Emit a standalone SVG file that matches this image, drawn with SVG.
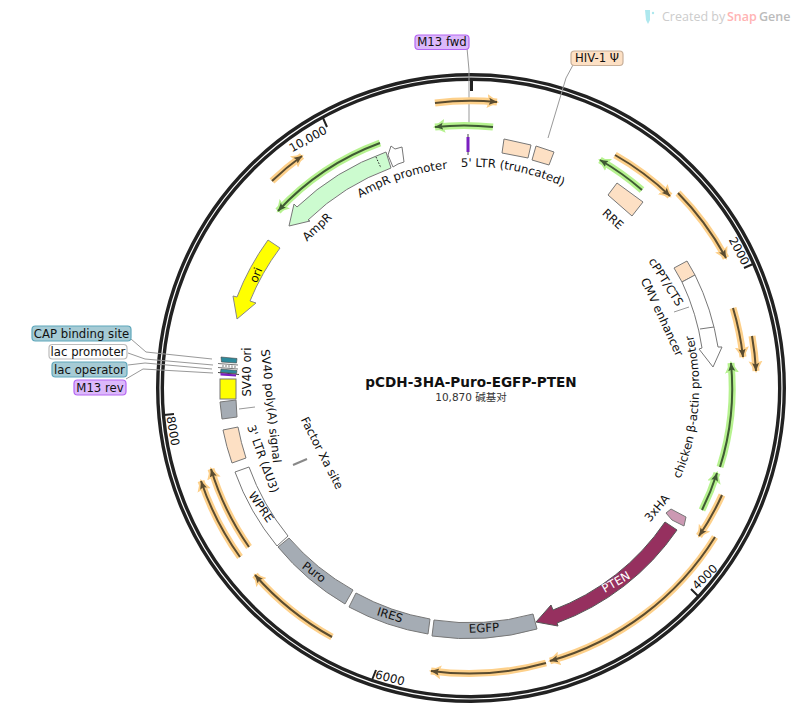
<svg xmlns="http://www.w3.org/2000/svg" width="800" height="728" viewBox="0 0 800 728">
<style>
text{font-family:"DejaVu Sans",Verdana,sans-serif;font-size:11.7px;fill:#111}
.c{text-anchor:middle;dominant-baseline:central}
.f{stroke:#777;stroke-width:1}
.pe{fill:#fde0c4}.gr{fill:#a5acb4}.wh{fill:#fff}.ye{fill:#ff0}
.lead{fill:none;stroke:#999;stroke-width:1}
.b{stroke-width:1.2}
.gl{fill:none;stroke-width:7}
.ln{fill:none;stroke-width:2}
.o .gl{stroke:#fdd08a;marker-end:url(#ho)}
.o .ln{stroke:#5a4c30;marker-end:url(#hd)}
.g .gl{stroke:#b6f28f;marker-end:url(#hg)}
.g .ln{stroke:#3f5a33;marker-end:url(#hd2)}
.tick{stroke:#222;stroke-width:2}
</style>
<defs>
<marker id="ho" markerUnits="userSpaceOnUse" markerWidth="14" markerHeight="14" refX="10" refY="7" orient="auto"><path d="M0 0L12 7L0 14L2 7Z" fill="#fdd08a"/></marker>
<marker id="hg" markerUnits="userSpaceOnUse" markerWidth="14" markerHeight="14" refX="10" refY="7" orient="auto"><path d="M0 0L12 7L0 14L2 7Z" fill="#b6f28f"/></marker>
<marker id="hd" markerUnits="userSpaceOnUse" markerWidth="10" markerHeight="10" refX="8" refY="4" orient="auto"><path d="M0 .5L8 4L0 7.5L1.5 4Z" fill="#5a4c30"/></marker>
<marker id="hd2" markerUnits="userSpaceOnUse" markerWidth="10" markerHeight="10" refX="8" refY="4" orient="auto"><path d="M0 .5L8 4L0 7.5L1.5 4Z" fill="#3f5a33"/></marker>
<path id="p-ltr" d="M461 167A221 221 0 0 1 620 224"/>
<path id="p-amp" d="M360 198A221 221 0 0 1 500 169"/>
<path id="p-chk" d="M666 506A228 228 0 0 0 684 306"/>
</defs>

<g id="watermark">
<path d="M645 10L650 10L650 20L648 24L646 20Z" fill="#aee8ee"/><circle cx="653" cy="13" r="1.2" fill="#aee8ee"/>
<text x="662" y="21" style="font-family:'Open Sans',sans-serif;font-size:12.5px;fill:#ccc">Created by</text>
<text x="727" y="21" style="font-family:'Open Sans',sans-serif;font-size:12.5px;font-weight:600;fill:#ffb3b3">Snap</text>
<text x="759" y="21" style="font-family:'Open Sans',sans-serif;font-size:12.5px;font-weight:600;fill:#bbb">Gene</text>
</g>

<g id="backbone">
<circle cx="471" cy="388" r="311" fill="none" stroke="#222" stroke-width="8"/>
<circle cx="471" cy="388" r="311" fill="none" stroke="#fff" stroke-width="1.2"/>
<path class="tick" style="stroke-width:3" d="M471.500 78V91"/>
<path class="tick" d="M753 264L744 268M698 596L691 589M372 680L376 670M164 415L174 414M323 118L327 127"/>
<text class="c" transform="translate(739 251) rotate(62)">2000</text>
<text class="c" transform="translate(705 577) rotate(-45)">4000</text>
<text class="c" transform="translate(390 678) rotate(15)">6000</text>
<text class="c" transform="translate(173 431) rotate(80)">8000</text>
<text class="c" transform="translate(308 139) rotate(-29)">10,000</text>
</g>

<g id="connectors">
<path class="lead" d="M467 48L469 70V123"/>
<path class="lead" d="M573 65L566 78L548 138"/>
<path class="lead" d="M131 339L146 352L212 359"/>
<path class="lead" d="M128 353L145 359L213 365"/>
<path class="lead" d="M128 365L145 363L212 369"/>
<path class="lead" d="M126 379L143 369L213 373"/>
<path class="lead" d="M239 409L255 407"/>
<path class="lead" d="M674 312L689 307"/>
</g>

<g id="primers">
<g class="o"><path class="gl" d="M435 103A287 287 0 0 1 497 102"/><path class="ln" d="M435 103A287 287 0 0 1 497 102"/></g>
<g class="g"><path class="gl" d="M493 127A262 262 0 0 0 435 127"/><path class="ln" d="M493 127A262 262 0 0 0 435 127"/></g>
<g class="o"><path class="gl" d="M615 155A275 275 0 0 1 670 196"/><path class="ln" d="M615 155A275 275 0 0 1 670 196"/></g>
<g class="o"><path class="gl" d="M678 193A285 285 0 0 1 726 258"/><path class="ln" d="M678 193A285 285 0 0 1 726 258"/></g>
<g class="o"><path class="gl" d="M733 308A274 274 0 0 1 743 357"/><path class="ln" d="M733 308A274 274 0 0 1 743 357"/></g>
<g class="o"><path class="gl" d="M752 336A286 286 0 0 1 756 371"/><path class="ln" d="M752 336A286 286 0 0 1 756 371"/></g>
<g class="g"><path class="gl" d="M720 467A261 261 0 0 0 731 363"/><path class="ln" d="M720 467A261 261 0 0 0 731 363"/></g>
<g class="g"><path class="gl" d="M702 510A261 261 0 0 0 717 473"/><path class="ln" d="M702 510A261 261 0 0 0 717 473"/></g>
<g class="g"><path class="gl" d="M642 190A262 262 0 0 0 600 160"/><path class="ln" d="M642 190A262 262 0 0 0 600 160"/></g>
<g class="o"><path class="gl" d="M722 495A273 273 0 0 1 699 536"/><path class="ln" d="M722 495A273 273 0 0 1 699 536"/></g>
<g class="o"><path class="gl" d="M715 537A286 286 0 0 1 550 661"/><path class="ln" d="M715 537A286 286 0 0 1 550 661"/></g>
<g class="o"><path class="gl" d="M546 663A286 286 0 0 1 431 671"/><path class="ln" d="M546 663A286 286 0 0 1 431 671"/></g>
<g class="o"><path class="gl" d="M332 637A286 286 0 0 1 255 575"/><path class="ln" d="M332 637A286 286 0 0 1 255 575"/></g>
<g class="o"><path class="gl" d="M240 557A286 286 0 0 1 201 481"/><path class="ln" d="M240 557A286 286 0 0 1 201 481"/></g>
<g class="o"><path class="gl" d="M249 547A273 273 0 0 1 211 469"/><path class="ln" d="M249 547A273 273 0 0 1 211 469"/></g>
<g class="o"><path class="gl" d="M272 181A287 287 0 0 1 302 156"/><path class="ln" d="M272 181A287 287 0 0 1 302 156"/></g>
<g class="g"><path class="gl" d="M380 143A262 262 0 0 0 278 211"/><path class="ln" d="M380 143A262 262 0 0 0 278 211"/></g>
</g>

<g id="m13-fwd">
<path d="M468 134V155" stroke="#444" stroke-width="1"/><rect x="466.500" y="137" width="3" height="15" fill="#7a1fc0"/>
<rect x="415" y="35" width="54" height="14.500" rx="3.500" fill="#dcb8fb" stroke="#b566f2" class="b"/>
<text class="c" x="442" y="42">M13 fwd</text>
</g>
<g id="ltr5">
<path class="f pe" d="M504 139L531 145L528 158L502 153Z"/>
<path class="f pe" d="M536 146L554 152L549 165L532 160Z"/>
<text><textPath href="#p-ltr">5' LTR (truncated)</textPath></text>
</g>
<g id="hiv-psi">
<rect x="571" y="51" width="52" height="14.500" rx="3.500" fill="#fde0c4" stroke="#c8b09a" class="b"/>
<text class="c" x="597" y="58">HIV-1 Ψ</text>
</g>
<g id="rre"><path class="f pe" d="M617 183L643 202L632 216L608 195Z"/><text class="c" transform="translate(613 219) rotate(42)">RRE</text></g>
<g id="cppt"><path class="f pe" d="M674 268L687 261L695 275L682 282Z"/><text class="c" transform="translate(666 282) rotate(58)">cPPT/CTS</text></g>
<g id="cmv-actin">
<path class="f wh" d="M682 282L695 275A250 250 0 0 1 718 347L722 347L713 367L699 349L702 348A235 235 0 0 0 682 282Z"/>
<path class="f" d="M700 329L714 327"/>
<text class="c" transform="translate(662 317) rotate(65)">CMV enhancer</text>
<text text-anchor="middle"><textPath href="#p-chk" startOffset="50%">chicken β-actin promoter</textPath></text>
</g>
<g id="ha3"><path d="M671 509L686 517L684 526L672 520L666 513Z" fill="#cc99b3" stroke="#777"/><text class="c" transform="translate(657 508) rotate(-50)">3xHA</text></g>
<g id="pten">
<path d="M677 530A250 250 0 0 1 557 623L558 626L536 622L551 605L553 610A236 236 0 0 0 665 522Z" fill="#96305f" stroke="#555"/>
<text class="c" transform="translate(616 582) rotate(-30)" style="fill:#fff">PTEN</text>
</g>
<g id="egfp"><path class="f gr" d="M434 620A235 235 0 0 0 533 614L537 629A250 250 0 0 1 432 636Z"/><text class="c" transform="translate(484 628) rotate(-3)">EGFP</text></g>
<g id="ires"><path class="f gr" d="M356 593A235 235 0 0 0 430 619L428 634A250 250 0 0 1 349 607Z"/><text class="c" transform="translate(390 615) rotate(17)">IRES</text></g>
<g id="puro"><path class="f gr" d="M289 538A236 236 0 0 0 353 590L345 604A250 250 0 0 1 278 547Z"/><text class="c" transform="translate(314 572) rotate(37)">Puro</text></g>
<g id="wpre"><path class="f wh" d="M249 467A236 236 0 0 0 288 536L277 546A250 250 0 0 1 235 472Z"/><text class="c" transform="translate(261 507) rotate(55)">WPRE</text></g>
<g id="ltr3"><path class="f pe" d="M238 427A236 236 0 0 0 246 458L232 463A250 250 0 0 1 223 430Z"/><text class="c" transform="translate(263 459) rotate(70)">3' LTR (ΔU3)</text></g>
<g id="factor-xa"><path d="M293 465L307 459" stroke="#888" stroke-width="2"/><text class="c" transform="translate(322 453) rotate(63)">Factor Xa site</text></g>
<g id="sv40-polya"><path class="f gr" d="M220 402L236 400L237 417L222 419Z"/><text class="c" transform="translate(271 406) rotate(84)">SV40 poly(A) signal</text></g>
<g id="sv40-ori"><rect class="f ye" x="220" y="379" width="16" height="20"/><text class="c" transform="translate(247 372) rotate(-90)">SV40 ori</text></g>
<g id="cap-site">
<path d="M221 357L237 358.500L236.500 363L221.500 362Z" fill="#2d8a9c" stroke="#444" stroke-width=".6"/>
<rect x="32" y="326" width="99" height="15" rx="3.500" fill="#a6cbd5" stroke="#5ea7bb" class="b"/>
<text class="c" x="81.500" y="333.500">CAP binding site</text>
</g>
<g id="lac-promoter">
<path d="M218 363.500L238 365M218 367.500L238 369" stroke="#555" stroke-width=".8"/>
<path d="M222 365.800L236 367" stroke="#bbb" stroke-width="2.500" stroke-dasharray="2 1"/>
<rect x="49" y="344.500" width="78" height="14.500" rx="3.500" fill="#fff" stroke="#bbb" class="b"/>
<text class="c" x="88" y="351.500">lac promoter</text>
</g>
<g id="lac-operator">
<path d="M221 369L237 370.500L236.500 373.500L220.500 372.500Z" fill="#2d8a9c" stroke="#444" stroke-width=".6"/>
<rect x="52" y="362" width="75" height="15" rx="3.500" fill="#a6cbd5" stroke="#5ea7bb" class="b"/>
<text class="c" x="89.500" y="369.500">lac operator</text>
</g>
<g id="m13-rev">
<path d="M218 372.500L239 374.500" stroke="#444" stroke-width="1"/><path d="M220.500 373L236 374.500L236 376.500L220.500 375.500Z" fill="#7a1fc0"/>
<rect x="74" y="380" width="52" height="15" rx="3.500" fill="#dcb8fb" stroke="#b566f2" class="b"/>
<text class="c" x="100" y="387.500">M13 rev</text>
</g>
<g id="ori">
<path d="M268 240A251 251 0 0 0 237 297L233 296L237 319L256 303L250 301A237 237 0 0 1 280 248Z" fill="#ff0" stroke="#888"/>
<text class="c" transform="translate(256 275) rotate(-68)">ori</text>
</g>
<g id="ampr">
<path d="M386 152A251 251 0 0 0 297 207L294 204L289 226L310 221L308 220A234 234 0 0 1 391 168Z" fill="#ccfbcf" stroke="#777"/>
<path d="M376 157L381 168" stroke="#222" stroke-width="1" stroke-dasharray="1.500 1.500"/>
<text class="c" transform="translate(317 227) rotate(-43)">AmpR</text>
</g>
<g id="ampr-promoter">
<path class="f wh" d="M388 155L391 146L395 149L402 147L404 162L398 164L393 167Z"/>
<text><textPath href="#p-amp">AmpR promoter</textPath></text>
</g>
<g id="title">
<text x="471" y="387" text-anchor="middle" style="font-weight:700;font-size:13.600px">pCDH-3HA-Puro-EGFP-PTEN</text>
<text x="471" y="401" text-anchor="middle" style="font-family:'DejaVu Sans','Noto Sans CJK SC',sans-serif;font-size:10.500px;fill:#333">10,870 碱基对</text>
</g>
</svg>
